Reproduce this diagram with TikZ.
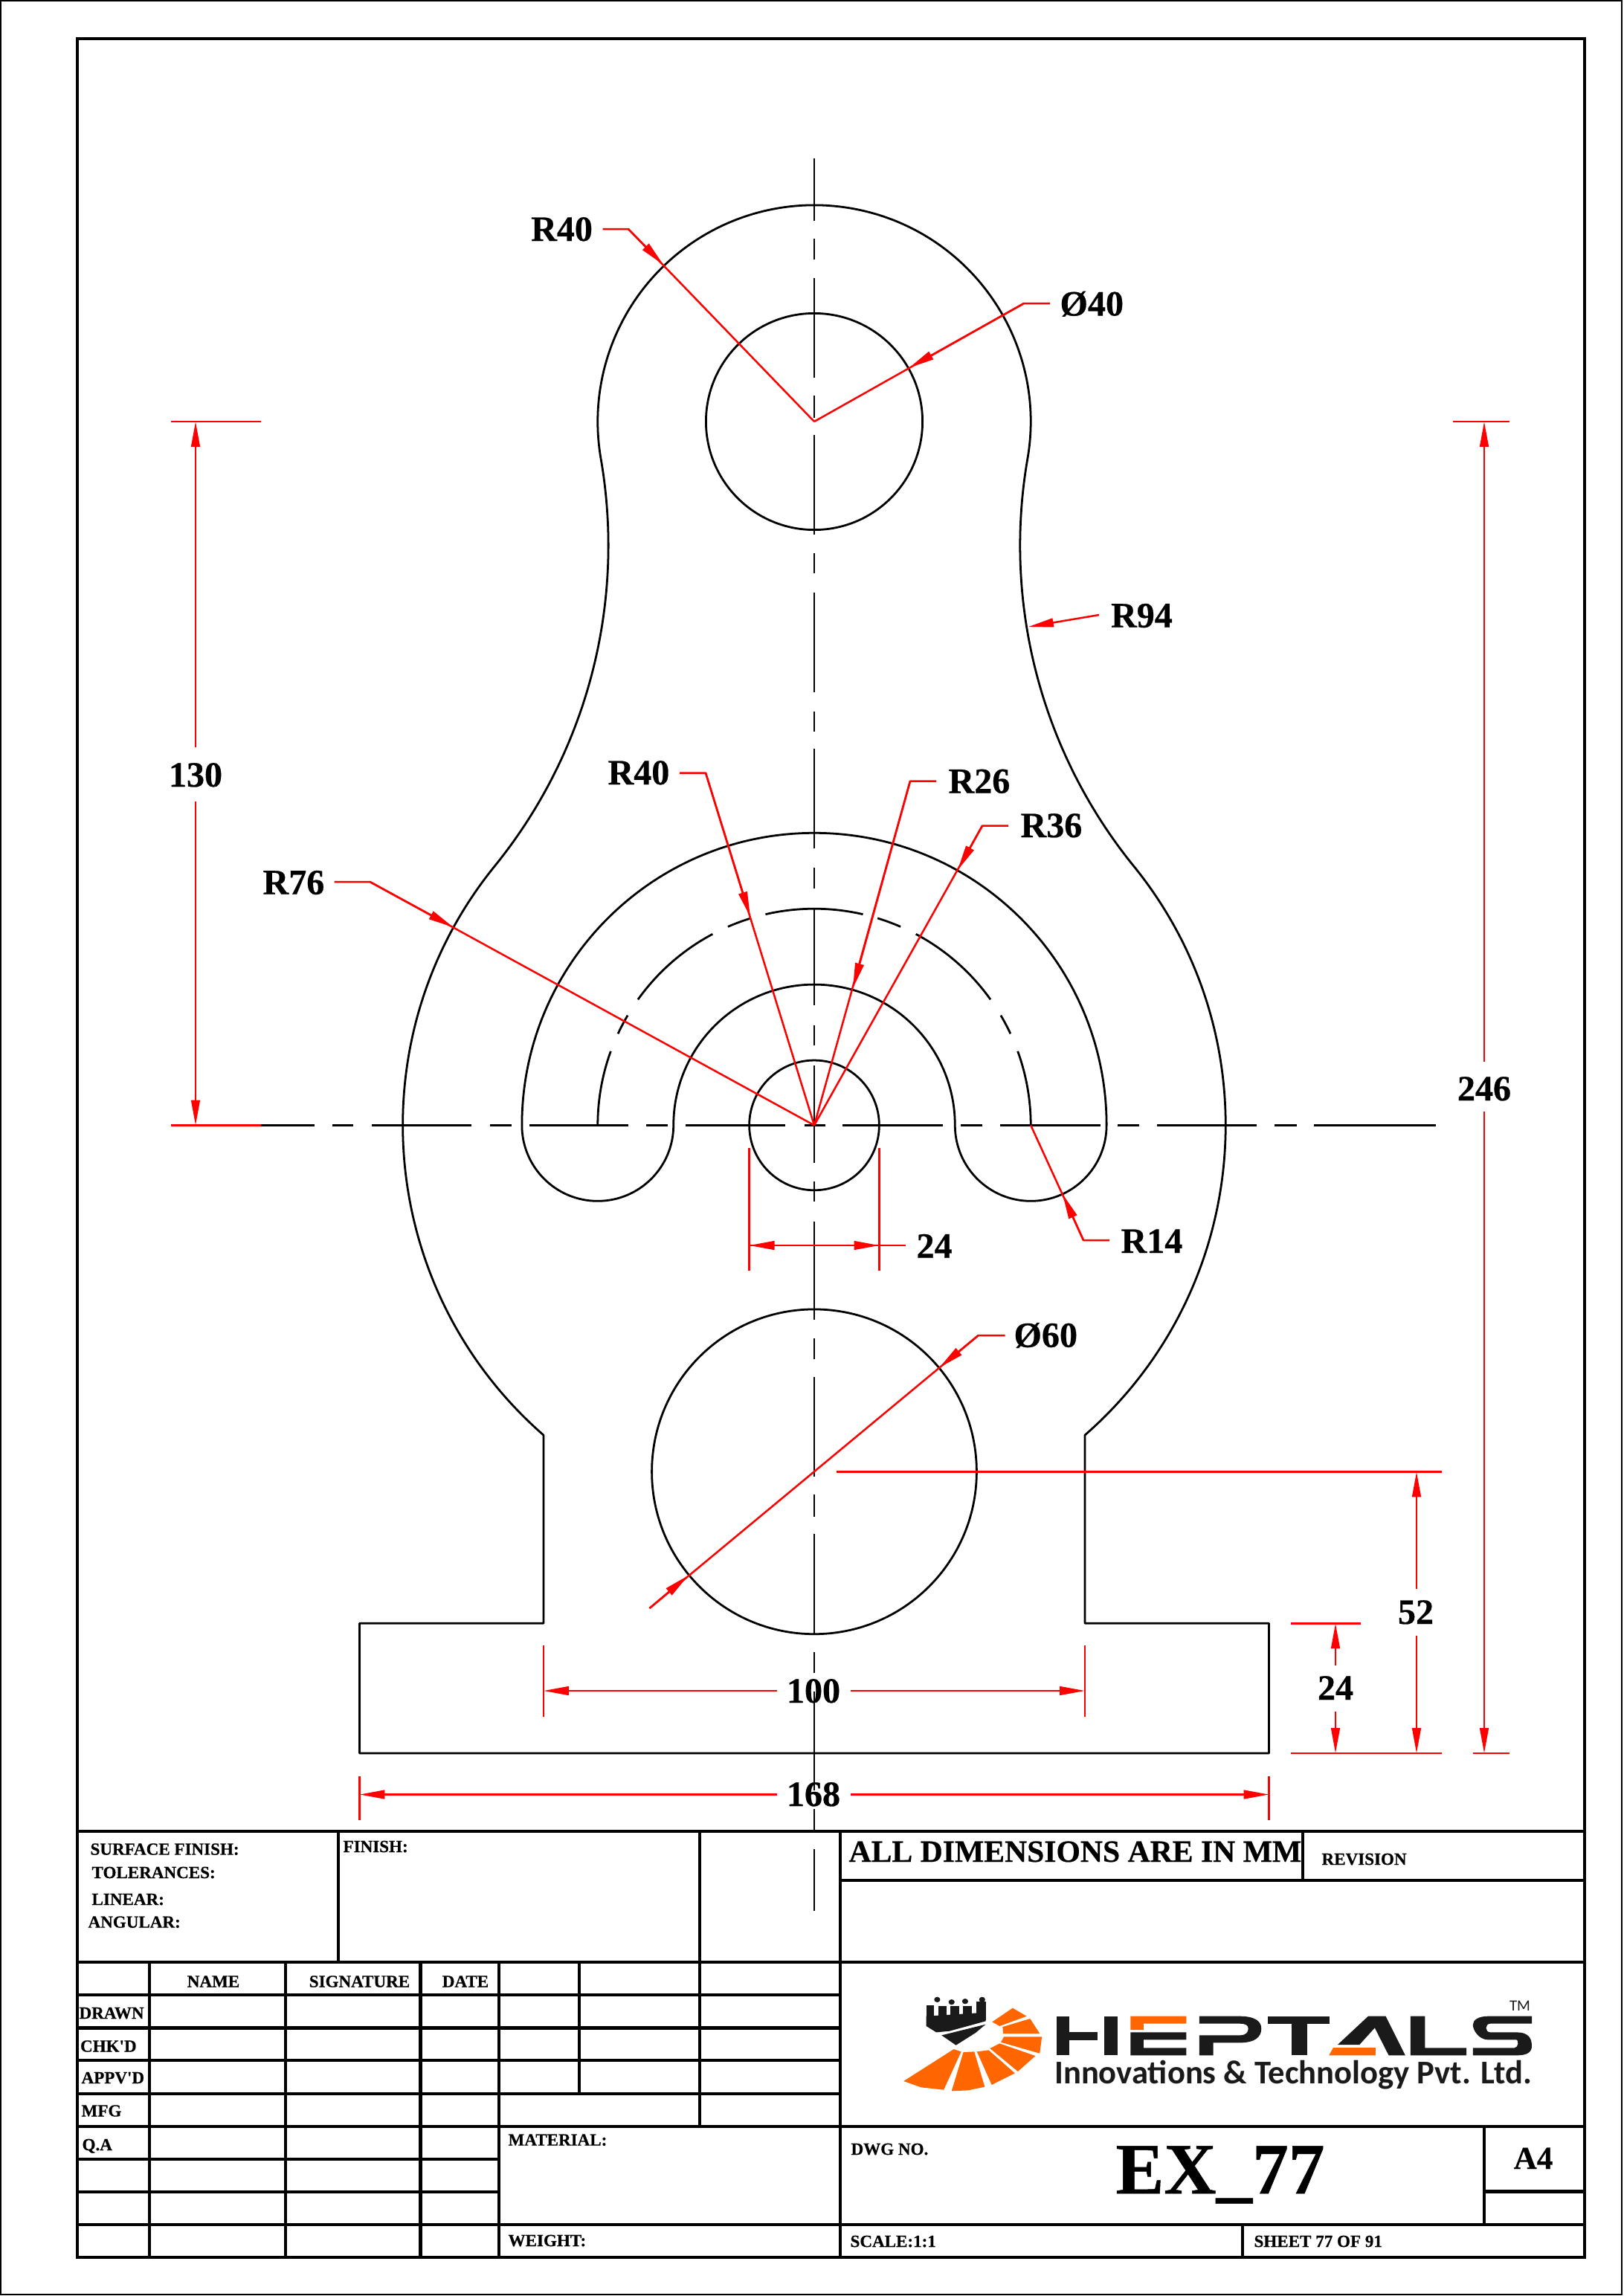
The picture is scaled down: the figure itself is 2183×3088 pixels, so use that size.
\documentclass[tikz,border=0pt]{standalone}
\usepackage{fontspec}
\usetikzlibrary{arrows.meta}
\setmainfont{Liberation Serif}[BoldFont={Liberation Serif Bold},BoldFeatures={FakeBold=0.5}]
\newfontfamily\logofont{Carlito}
\definecolor{dimred}{HTML}{FF0000}
\definecolor{logoor}{HTML}{FF6600}
\definecolor{logobk}{HTML}{1A1A1A}
\tikzset{
  geom/.style={draw=black,line width=1pt,line join=round},
  centre/.style={draw=black,line width=1pt},
  tbl/.style={draw=black,line width=1.6pt},
  dimln/.style={draw=dimred,line width=.9pt,line join=round},
  dimarr/.style={draw=dimred,line width=.9pt,-{Triangle[length=12.2pt,width=4.2pt,sep=0pt,fill=dimred]}},
  dimlab/.style={inner sep=0pt,font=\fontsize{17.3}{18}\bfseries\selectfont,anchor=base west},
  dimmid/.style={dimlab,anchor=base},
  tbltxt/.style={inner sep=0pt,font=\fontsize{8.3}{9}\bfseries\selectfont,anchor=base west},
  tblmid/.style={tbltxt,anchor=base},
  orangepart/.style={fill=logoor,draw=none},
  blackpart/.style={fill=logobk,draw=none}
}
\begin{document}
\begin{tikzpicture}[x=.36pt,y=-.36pt]
\useasboundingbox (0,0) rectangle (2183,3088);
\fill[white] (0,0) rectangle (2183,3088);
% ---- frames
\draw[line width=.8pt] (1,1) rectangle (2181,3086);
\draw[tbl] (104,52) rectangle (2131,3036);
% ---- title block
\foreach \yy in {2463,2639,2860,2992}{\draw[tbl] (104,\yy) -- (2131,\yy);}
\draw[tbl] (1130,2529) -- (2131,2529);
\foreach \yy in {2683,2727.5,2771,2816}{\draw[tbl] (104,\yy) -- (1130,\yy);}
\foreach \yy in {2904,2948}{\draw[tbl] (104,\yy) -- (671,\yy);}
\draw[tbl] (455,2463) -- (455,2639);
\draw[tbl] (941,2463) -- (941,2860);
\draw[tbl] (1130,2463) -- (1130,3036);
\foreach \xx in {201,384,565.5,671}{\draw[tbl] (\xx,2639) -- (\xx,3036);}
\draw[tbl] (779,2639) -- (779,2816);
\draw[tbl] (1752,2463) -- (1752,2529);
\draw[tbl] (1996,2860) -- (1996,2992);
\draw[tbl] (1996,2947.5) -- (2131,2947.5);
\draw[tbl] (1671,2992) -- (1671,3036);
% ---- title block texts
\node[tbltxt] (t1) at (121,2494.6) {SURFACE FINISH:};
\node[tbltxt] (t2) at (123,2526) {TOLERANCES:};
\node[tbltxt] (t3) at (123,2562) {LINEAR:};
\node[tbltxt] (t4) at (118,2592.6) {ANGULAR:};
\node[tbltxt] (t5) at (461,2491) {FINISH:};
\node[tblmid] (t6) at (287,2672.5) {NAME};
\node[tblmid] (t7) at (483.5,2672.5) {SIGNATURE};
\node[tblmid] (t8) at (626,2672.5) {DATE};
\node[tbltxt] (t9) at (106,2715) {DRAWN};
\node[tbltxt] (t10) at (107.5,2759.5) {CHK\textquotesingle D};
\node[tbltxt] (t11) at (109,2802) {APPV\textquotesingle D};
\node[tbltxt] (t12) at (109,2846.5) {MFG};
\node[tbltxt] (t13) at (110,2892) {Q.A};
\node[tbltxt] (t14) at (683,2885.6) {MATERIAL:};
\node[tbltxt] (t15) at (683,3021) {WEIGHT:};
\node[inner sep=0pt,anchor=base west,font=\fontsize{15}{16}\bfseries\selectfont] (t16) at (1141,2504) {ALL DIMENSIONS ARE IN MM};
\node[tbltxt] (t17) at (1777,2508) {REVISION};
\node[tbltxt] (t18) at (1144,2898) {DWG NO.};
\node[inner sep=0pt,anchor=base west,font=\fontsize{35}{36}\bfseries\selectfont] (t19) at (1500,2950) {EX\_77};
\node[inner sep=0pt,anchor=base,font=\fontsize{15.5}{16}\bfseries\selectfont] (t20) at (2062,2917) {A4};
\node[tbltxt] (t21) at (1143,3022) {SCALE:1:1};
\node[tbltxt] (t22) at (1686,3022) {SHEET 77 OF 91};
% ---- logo
\begin{scope}[shift={(1180,2650)},x=.2112pt,y=-.12pt]
  \fill[orangepart] (60,447)--(175,318)--(192,328)--(152,482)--(100,472)--cycle;
  \fill[orangepart] (197,330)--(222,328)--(246,470)--(208,484)--(170,487)--cycle;
  \fill[orangepart] (228,328)--(255,322)--(315,415)--(262,462)--cycle;
  \fill[orangepart] (258,315)--(280,295)--(362,345)--(322,408)--cycle;
  \fill[orangepart] (283,290)--(290,268)--(377,268)--(372,335)--cycle;
  \fill[orangepart] (287,228)--(350,195)--(372,255)--(288,255)--cycle;
  \fill[orangepart] (263,208)--(310,152)--(342,185)--(280,225)--cycle;
  % crown
  \fill[blackpart] (112,185)--(248,170)--(248,205)--(165,245)--(135,250)--(112,225)--cycle;
  \foreach \xa/\xb/\yt in {112/129/140,139/158/145,167/188/145,196/216/145,226/248/125}{
    \fill[blackpart] (\xa,\yt) rectangle (\xb,200);}
  \foreach \xa/\yt in {137/118,170/128,201/125,240/118}{
    \fill[blackpart] (\xa,\yt) circle[x radius=7,y radius=11];}
  \fill[blackpart] (147,262)--(248,218)--(225,252)--(180,302)--cycle;
  % H
  \fill[blackpart] (410,185) rectangle (440,343);
  \fill[blackpart] (440,250) rectangle (505,282);
  \fill[blackpart] (520,185) rectangle (550,343);
  % E
  \fill[orangepart] (580,185)--(708,185)--(708,215)--(610,215)--(610,240)--(580,240)--cycle;
  \fill[blackpart] (580,250)--(708,250)--(708,280)--(610,280)--(610,313)--(708,313)--(708,343)--(580,343)--cycle;
  % P
  \fill[blackpart] (738,185)--(830,185) .. controls (865,185) and (880,205) .. (880,235) .. controls (880,270) and (865,292) .. (830,292)--(770,292)--(770,343)--(738,343)--(738,262)--(830,262) .. controls (845,262) and (850,250) .. (850,235) .. controls (850,222) and (845,215) .. (830,215)--(738,215)--cycle;
  % T
  \fill[blackpart] (895,185) rectangle (1037,215);
  \fill[blackpart] (950,215) rectangle (985,343);
  % A
  \fill[blackpart] (1055,300)--(1125,185)--(1165,185)--(1210,343)--(1172,343)--(1140,232)--(1105,300)--cycle;
  \fill[orangepart] (1045,312)--(1142,312)--(1142,343)--(1035,343)--cycle;
  % L
  \fill[blackpart] (1222,185)--(1255,185)--(1255,313)--(1350,313)--(1350,343)--(1222,343)--cycle;
  % S
  \fill[blackpart] (1500,185)--(1400,185) .. controls (1378,185) and (1365,200) .. (1365,220) .. controls (1365,240) and (1378,280) .. (1400,280)--(1465,280) .. controls (1470,280) and (1470,313) .. (1460,313)--(1365,313)--(1365,343)--(1465,343) .. controls (1490,343) and (1500,330) .. (1500,305) .. controls (1500,270) and (1490,250) .. (1465,250)--(1405,250) .. controls (1392,250) and (1392,215) .. (1405,215)--(1500,215)--cycle;
\end{scope}
\node[inner sep=0pt,anchor=base west,text=logobk] (lg1) at (1417.6,2802.7) {\resizebox{231.2pt}{!}{\logofont\bfseries Innovations \& Technology Pvt. Ltd.}};
\node[inner sep=0pt,anchor=base,text=logobk,font=\logofont\fontsize{7.5}{8}\selectfont] (lg2) at (2044,2704) {TM};
% ---- centre lines
\foreach \ya/\yb in {213/297,321/349,374/508,532/562,585/719,744/771,797/931,957/984,1007/1141,1167/1195,1222/1352,1379/1406,1433/1564,1589/1616,1643/1775,1800/1828,1852/1986,2010/2040,2063/2198,2222/2250,2275/2408,2433/2463,2487/2570}{
  \draw[centre] (1095,\ya) -- (1095,\yb);}
\foreach \xa/\xb in {350/422.6,447/475,500/634,659/688,711.5/845,869/898,922/1056,1082/1110,1133/1268,1292/1321,1344.6/1479.6,1503/1532,1556/1690,1714/1744,1767/1931}{
  \draw[centre] (\xa,1513.4) -- (\xb,1513.4);}
% ---- part geometry, millimetres from the main centre
\begin{scope}[shift={(1095,1513.4)},x=2.6208pt,y=2.6208pt]
  \draw[geom] (50,-57.24) arc[start angle=-48.86,end angle=39.05,radius=76]
     arc[start angle=219.05,end angle=170.16,radius=94]
     arc[start angle=-9.84,end angle=189.84,radius=40]
     arc[start angle=9.84,end angle=-39.05,radius=94]
     arc[start angle=140.95,end angle=228.86,radius=76]
     -- (-50,-92) -- (-84,-92) -- (-84,-116) -- (84,-116) -- (84,-92) -- (50,-92) -- cycle;
  \draw[geom] (0,130) circle[radius=20];
  \draw[geom] (0,0) circle[radius=12];
  \draw[geom] (0,-64) circle[radius=30];
  \draw[geom] (-54,0) arc[start angle=180,end angle=0,radius=54]
     arc[start angle=0,end angle=-180,radius=14]
     arc[start angle=0,end angle=180,radius=26]
     arc[start angle=0,end angle=-180,radius=14];
  \foreach \aa/\ab in {180/160,155/149.5,144.5/118,113.5/107,103/77,73/66.5,62/35.5,30.5/25,20/0}{
    \draw[geom] (\aa:40) arc[start angle=\aa,end angle=\ab,radius=40];}
\end{scope}
% ---- named points
\coordinate (ctop) at (1095,567);
\coordinate (cmain) at (1095,1513.4);
\coordinate (clow) at (1095,1979.4);
% ---- leaders
\node[dimlab] (lR40a) at (713.6,324) {R40};
\coordinate (s1) at (810.6,308); \coordinate (k1) at (845,308); \coordinate (p1) at (892,356);
\draw[dimln] (s1) -- (k1) -- (ctop);
\draw[dimarr] (k1) -- (p1);
\node[dimlab] (lD40) at (1425,424.5) {Ø40};
\coordinate (s2) at (1412,408); \coordinate (k2) at (1377,408); \coordinate (p2) at (1222.7,494.6);
\draw[dimln] (s2) -- (k2) -- (ctop);
\draw[dimarr] (k2) -- (p2);
\node[dimlab] (lR94) at (1493.5,843.7) {R94};
\coordinate (s3) at (1478,827); \coordinate (p3) at (1383,843);
\draw[dimarr] (s3) -- (p3);
\node[dimlab] (lR40b) at (817,1055) {R40};
\coordinate (s4) at (914,1039.5); \coordinate (k4) at (949,1039.5); \coordinate (p4) at (1009,1233);
\draw[dimln] (s4) -- (k4) -- (cmain);
\draw[dimarr] (k4) -- (p4);
\node[dimlab] (lR26) at (1275,1066.5) {R26};
\coordinate (s5) at (1259,1050.5); \coordinate (k5) at (1224,1050.5); \coordinate (p5) at (1147,1329);
\draw[dimln] (s5) -- (k5) -- (cmain);
\draw[dimarr] (k5) -- (p5);
\node[dimlab] (lR36) at (1372,1126) {R36};
\coordinate (s6) at (1356,1110.6); \coordinate (k6) at (1321,1110.6); \coordinate (p6) at (1288,1170);
\draw[dimln] (s6) -- (k6) -- (cmain);
\draw[dimarr] (k6) -- (p6);
\node[dimlab] (lR76) at (353,1202.7) {R76};
\coordinate (s7) at (449.7,1186); \coordinate (k7) at (497.5,1186); \coordinate (p7) at (609.5,1247);
\draw[dimln] (s7) -- (k7) -- (cmain);
\draw[dimarr] (k7) -- (p7);
\node[dimlab] (lR14) at (1507,1685) {R14};
\coordinate (c14) at (1386.2,1513.4); \coordinate (k8) at (1457,1668); \coordinate (s8) at (1492,1668); \coordinate (p8) at (1429,1606);
\draw[dimln] (c14) -- (k8) -- (s8);
\draw[dimarr] (k8) -- (p8);
\node[dimlab] (lD60) at (1363,1811.7) {Ø60};
\coordinate (s9) at (1351.7,1796); \coordinate (k9) at (1315.7,1796); \coordinate (p9) at (1263.3,1839.3);
\coordinate (e9) at (873.5,2163); \coordinate (p9b) at (925.5,2119);
\draw[dimln] (s9) -- (k9) -- (e9);
\draw[dimarr] (k9) -- (p9);
\draw[dimarr] (e9) -- (p9b);
% ---- 24 hole
\node[dimlab] (l24a) at (1232,1691.7) {24};
\draw[dimln] (1007.6,1544) -- (1007.6,1709);
\draw[dimln] (1182.4,1544) -- (1182.4,1709);
\draw[dimarr] (1182.4,1675) -- (1007.6,1675);
\draw[dimarr] (1007.6,1675) -- (1182.4,1675);
\draw[dimln] (1182.4,1675) -- (1217.7,1675);
% ---- 130
\node[dimmid] (l130) at (263,1058) {130};
\draw[dimln] (230,567) -- (351,567);
\draw[dimln] (230,1513.4) -- (351,1513.4);
\draw[dimarr] (263,1005) -- (263,567);
\draw[dimarr] (263,1078) -- (263,1513.4);
% ---- 246
\node[dimmid] (l246) at (1996,1480) {246};
\draw[dimln] (1954,567) -- (2029.6,567);
\draw[dimln] (1980.6,2358) -- (2029.6,2358);
\draw[dimarr] (1996,1428) -- (1996,567);
\draw[dimarr] (1996,1495) -- (1996,2358);
% ---- 52 and 24
\node[dimmid] (l52) at (1904,2184) {52};
\draw[dimln] (1124.5,1979.4) -- (1939,1979.4);
\draw[dimln] (1736,2358) -- (1939,2358);
\draw[dimarr] (1905,2136.7) -- (1905,1979.4);
\draw[dimarr] (1905,2200) -- (1905,2358);
\node[dimmid] (l24b) at (1796,2286) {24};
\draw[dimln] (1736,2183.3) -- (1830,2183.3);
\draw[dimarr] (1796,2239.5) -- (1796,2183.3);
\draw[dimarr] (1796,2301.5) -- (1796,2358);
% ---- 100 and 168
\node[dimmid] (l100) at (1094,2290) {100};
\draw[dimln] (731,2213) -- (731,2308.7);
\draw[dimln] (1459,2213) -- (1459,2308.7);
\draw[dimarr] (1045,2274) -- (731,2274);
\draw[dimarr] (1144,2274) -- (1459,2274);
\node[dimmid] (l168) at (1094,2429) {168};
\draw[dimln] (483.5,2388.5) -- (483.5,2448);
\draw[dimln] (1706.5,2388.5) -- (1706.5,2448);
\draw[dimarr] (1045,2413.5) -- (483.5,2413.5);
\draw[dimarr] (1144,2413.5) -- (1706.5,2413.5);
\end{tikzpicture}
\end{document}
